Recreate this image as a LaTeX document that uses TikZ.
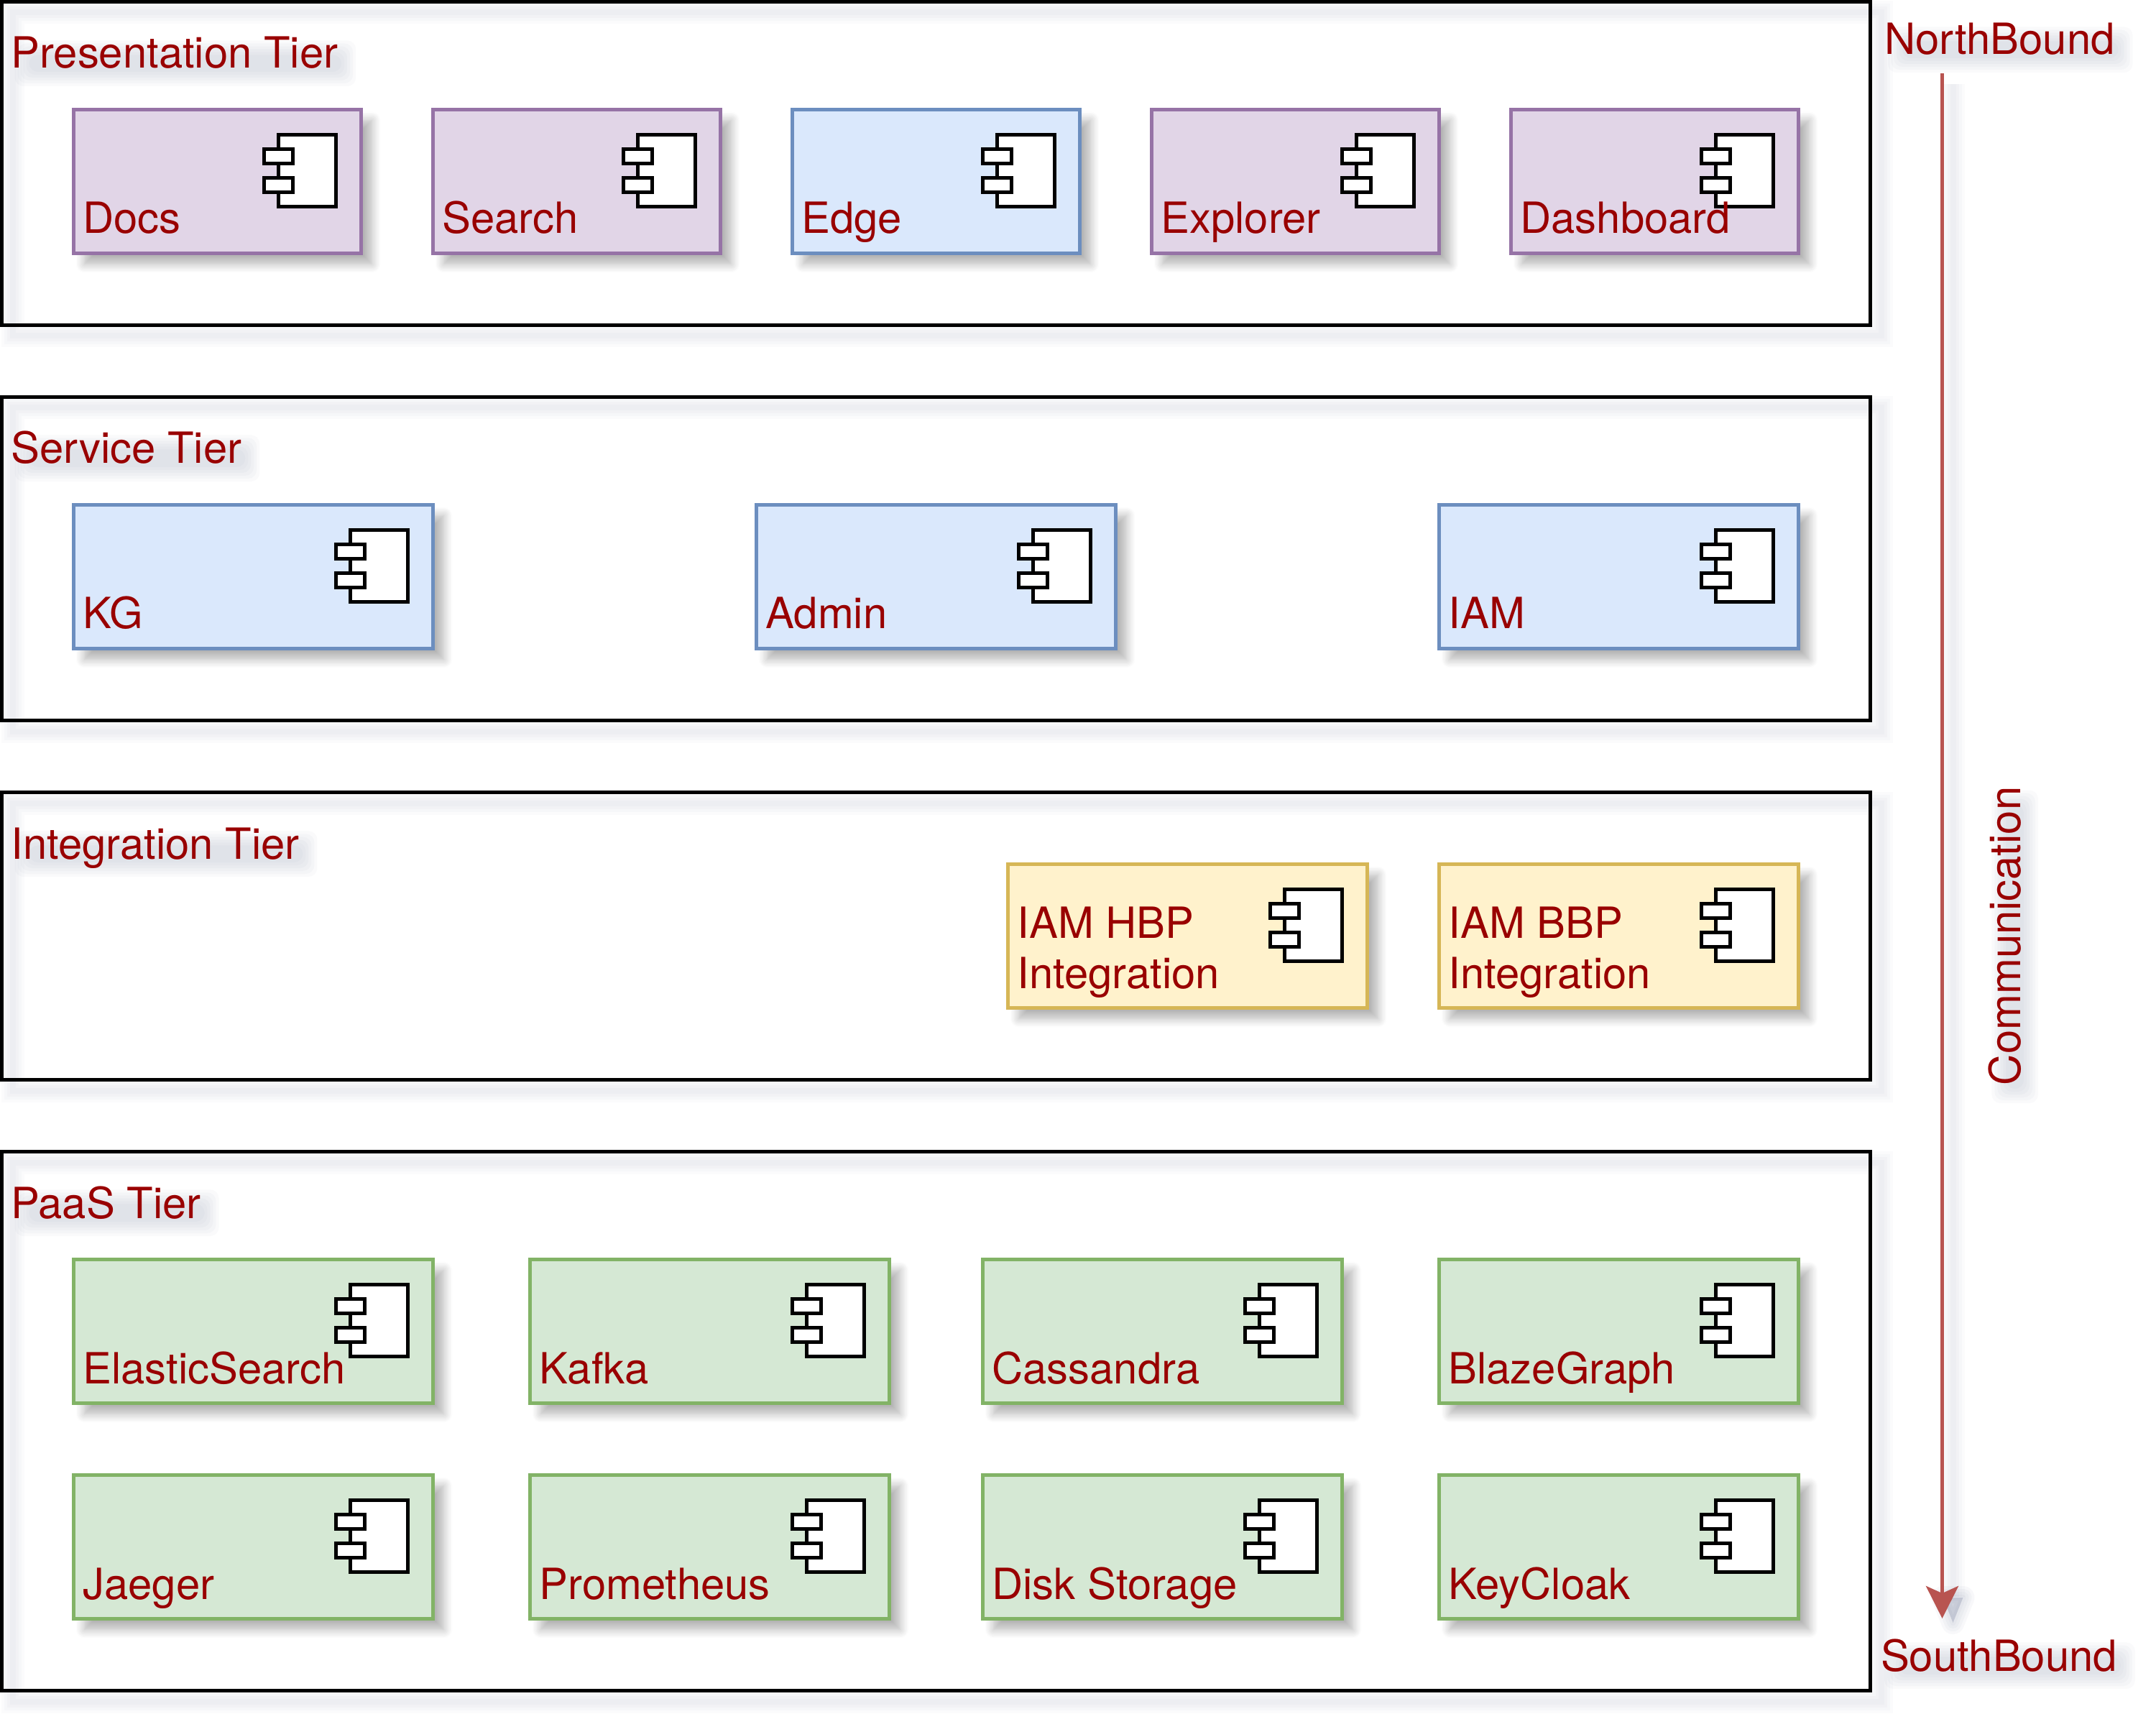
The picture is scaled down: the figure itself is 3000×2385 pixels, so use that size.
\documentclass[tikz,border=0pt]{standalone}
\usepackage{fontspec}
\setmainfont{TeX Gyre Heros}
\usetikzlibrary{arrows.meta,shadows.blur,calc,positioning,backgrounds}
\definecolor{softblue}{HTML}{1A2A5A}
\definecolor{labelred}{HTML}{990000}
\definecolor{flowred}{HTML}{B85450}

% caption with a soft band of shadow behind it, #1 node options, #4/#5 its page corners
\newcommand{\softlabel}[6][]{%
  \node[caption,#1] (#2) at (#3) {#6};
  \begin{pgfonlayer}{background}
    \foreach \g in {-10,-6,-2,2,6,10} {
      \fill[softblue, fill opacity=0.024, rounded corners=6pt] ([shift={(15-\g,15+\g)}]#2.#4) rectangle ([shift={(15+\g,15-\g)}]#2.#5);
    }
  \end{pgfonlayer}
}

\begin{document}
\begin{tikzpicture}
[x=0.5pt, y=-0.5pt, line width=2.5pt, >={Stealth[length=22.5pt,width=22.5pt,inset=5pt]},
caption/.style={anchor=south west, inner sep=0pt, outer sep=0pt, text depth=0pt, align=left, text=labelred,
  font=\fontsize{29.9}{35}\selectfont},
halo/.style={preaction={draw=softblue, draw opacity=0.02, line width=#1, transform canvas={xshift=7.5pt,yshift=-7.5pt}}},
tierframe/.style={rectangle, draw=black, anchor=north west, inner sep=0pt, outer sep=0pt, minimum width=1300pt,
  halo=16pt, halo=12pt, halo=8pt, halo=4pt},
comp/.style={rectangle, anchor=north west, inner sep=0pt, outer sep=0pt, minimum height=100pt,
  blur shadow={shadow xshift=7.5pt, shadow yshift=-7.5pt, shadow blur radius=6pt, shadow blur steps=10, shadow opacity=30, fill=softblue}},
purplebox/.style={comp, draw={rgb,255:red,150;green,115;blue,166}, fill={rgb,255:red,225;green,213;blue,231}},
bluebox/.style={comp, draw={rgb,255:red,108;green,142;blue,191}, fill={rgb,255:red,218;green,232;blue,252}},
yellowbox/.style={comp, draw={rgb,255:red,214;green,182;blue,86}, fill={rgb,255:red,255;green,242;blue,204}},
greenbox/.style={comp, draw={rgb,255:red,130;green,179;blue,102}, fill={rgb,255:red,213;green,232;blue,212}},
iconpart/.style={draw=black, fill=white, line width=2.5pt},
flowline/.style={draw=flowred, line width=2.5pt, draw opacity=1, fill opacity=1}]

\useasboundingbox (0,0) rectangle (3000,2385);

% tiers
\foreach \n/\y/\h in {pres/2.5/225, serv/552.5/225, integ/1102.5/200, paas/1602.5/375} {
  \node[tierframe, minimum height=\h*1pt] (\n) at (2.5,\y) {};
}

% components
\foreach \n/\s/\x/\y/\w in {docs/purplebox/102.5/152.5/200, search/purplebox/602.5/152.5/200, edge/bluebox/1102.5/152.5/200,
  explorer/purplebox/1602.5/152.5/200, dashboard/purplebox/2102.5/152.5/200,
  kg/bluebox/102.5/702.5/250, admin/bluebox/1052.5/702.5/250, iam/bluebox/2002.5/702.5/250,
  hbp/yellowbox/1402.5/1202.5/250, bbp/yellowbox/2002.5/1202.5/250,
  elastic/greenbox/102.5/1752.5/250, kafka/greenbox/737.5/1752.5/250, cassandra/greenbox/1367.5/1752.5/250, blaze/greenbox/2002.5/1752.5/250,
  jaeger/greenbox/102.5/2052.5/250, prometheus/greenbox/737.5/2052.5/250, disk/greenbox/1367.5/2052.5/250, keycloak/greenbox/2002.5/2052.5/250} {
  \node[\s, minimum width=\w*1pt] (\n) at (\x,\y) {};
  \draw[iconpart] ([shift={(-115,35)}]\n.north east) rectangle ([shift={(-35,135)}]\n.north east);
  \draw[iconpart] ([shift={(-135,55)}]\n.north east) rectangle ([shift={(-95,75)}]\n.north east);
  \draw[iconpart] ([shift={(-135,95)}]\n.north east) rectangle ([shift={(-95,115)}]\n.north east);
}

\foreach \n/\t in {docs/Docs, search/Search, edge/Edge, explorer/Explorer, dashboard/Dashboard,
  kg/KG, admin/Admin, iam/IAM, hbp/{IAM HBP\\Integration}, bbp/{IAM BBP\\Integration},
  elastic/ElasticSearch, kafka/Kafka, cassandra/Cassandra, blaze/BlazeGraph,
  jaeger/Jaeger, prometheus/Prometheus, disk/Disk Storage, keycloak/KeyCloak} {
  \node[caption] (\n txt) at ([shift={(13,-27.5)}]\n.south west) {\t};
}

% tier and side captions
\softlabel{prescap}{15.5,95}{south west}{north east}{Presentation Tier}
\softlabel{servcap}{15.5,645}{south west}{north east}{Service Tier}
\softlabel{integcap}{15.5,1195}{south west}{north east}{Integration Tier}
\softlabel{paascap}{15.5,1695}{south west}{north east}{PaaS Tier}
\softlabel{northcap}{2622,76}{south west}{north east}{NorthBound}
\softlabel{southcap}{2617,2325}{south west}{north east}{SouthBound}
\softlabel[rotate=90]{commcap}{2811,1510}{north west}{south east}{Communication}

% flow arrow
\coordinate (flowtop) at (2702.5,102.5);
\coordinate (flowtip) at (2702.5,2252);
\foreach \w in {16,12,8,4} {
  \draw[softblue, draw opacity=0.02, line width=\w pt] ([shift={(15,15)}]flowtop) -- ([shift={(15,-30)}]flowtip);
  \path[fill=softblue, fill opacity=0.045, draw=softblue, draw opacity=0.03, line width=\w pt, line join=round]
    ([shift={(15,6)}]flowtip) -- ++(-14,-35) -- ++(28,0) -- cycle;
}
\draw[->, flowline] (flowtop) -- (flowtip);
\end{tikzpicture}
\end{document}
